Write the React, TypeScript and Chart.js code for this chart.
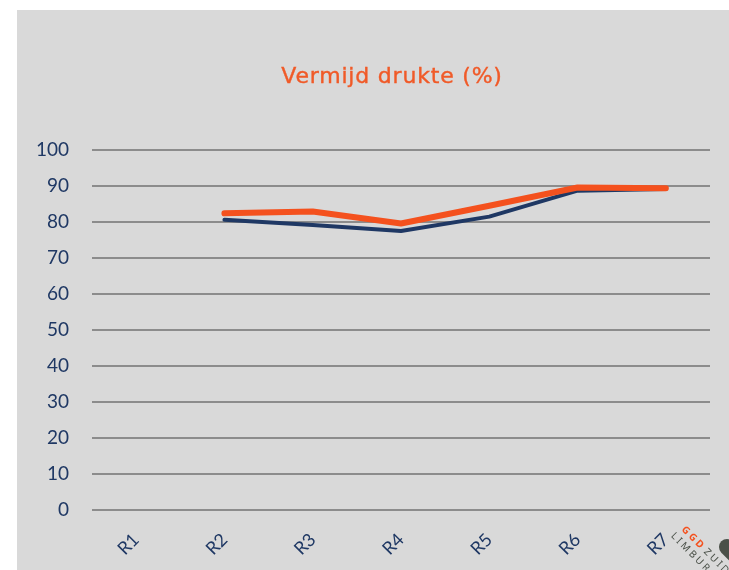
import React, { useEffect, useRef } from "react";
import { Chart, registerables } from "chart.js";

Chart.register(...registerables);

const categories = ["R1", "R2", "R3", "R4", "R5", "R6", "R7"];
const seriesNavy: (number | null)[] = [null, 80.6, 79.2, 77.5, 81.5, 88.7, 89.2];
const seriesOrange: (number | null)[] = [null, 82.4, 82.9, 79.6, 84.5, 89.6, 89.4];
const yTicks = [0, 10, 20, 30, 40, 50, 60, 70, 80, 90, 100];
const titleText = "Vermijd drukte (%)";

const NAVY = "#1f3864";
const ORANGE = "#f4511e";

const titlePlugin = {
  id: "customTitle",
  afterDraw(chart: any) {
    const ctx = chart.ctx as CanvasRenderingContext2D;
    ctx.save();
    ctx.font = "22px 'DejaVu Sans'";
    (ctx as any).letterSpacing = "0.8px";
    ctx.fillStyle = "#f05a28";
    ctx.strokeStyle = "#f05a28";
    ctx.lineWidth = 0.4;
    ctx.textAlign = "center";
    ctx.textBaseline = "middle";
    ctx.fillText(titleText, chart.width / 2, 67);
    ctx.strokeText(titleText, chart.width / 2, 67);
    ctx.restore();
  },
};

const logoPlugin = {
  id: "logo",
  afterDraw(chart: any) {
    const ctx = chart.ctx as CanvasRenderingContext2D;
    ctx.save();
    ctx.strokeStyle = "#4a5048";
    ctx.lineWidth = 16;
    ctx.lineCap = "round";
    ctx.beginPath();
    ctx.moveTo(710, 537);
    ctx.lineTo(746, 573);
    ctx.stroke();
    ctx.translate(664, 520);
    ctx.rotate(Math.PI / 4);
    ctx.font = "bold 10px 'Noto Sans'";
    (ctx as any).letterSpacing = "2.5px";
    ctx.textBaseline = "alphabetic";
    ctx.fillStyle = ORANGE;
    ctx.fillText("GGD", 0, 0);
    const w = ctx.measureText("GGD").width;
    ctx.fillStyle = "#4a5048";
    ctx.font = "10px 'Noto Sans'";
    ctx.fillText("ZUID", w + 2, 0);
    ctx.fillText("LIMBURG", -3, 12);
    ctx.restore();
  },
};

export default function App() {
  const ref = useRef<HTMLCanvasElement>(null);
  useEffect(() => {
    if (!ref.current) return;
    const chart = new Chart(ref.current, {
      type: "line",
      data: {
        labels: categories,
        datasets: [
          {
            label: "navy",
            data: seriesNavy,
            borderColor: NAVY,
            backgroundColor: NAVY,
            borderWidth: 4,
            pointRadius: 0,
            tension: 0,
            borderCapStyle: "round",
            borderJoinStyle: "round",
            order: 2,
          },
          {
            label: "orange",
            data: seriesOrange,
            borderColor: ORANGE,
            backgroundColor: ORANGE,
            borderWidth: 6,
            pointRadius: 0,
            tension: 0,
            borderCapStyle: "round",
            borderJoinStyle: "round",
            order: 1,
          },
        ],
      },
      options: {
        animation: false,
        responsive: false,
        layout: { padding: { left: 0, right: 57, top: 140, bottom: 0 } },
        plugins: {
          legend: { display: false },
          tooltip: { enabled: false },
          title: { display: false },
        },
        scales: {
          x: {
            offset: true,
            grid: { display: false, drawTicks: false },
            border: { display: false },
            ticks: {
              color: NAVY,
              font: { family: "Lato", size: 18 },
              minRotation: 45,
              maxRotation: 45,
              padding: 19,
            },
            afterFit(scale: any) {
              scale.height = 60;
            },
          },
          y: {
            min: 0,
            max: 100,
            afterBuildTicks(scale: any) {
              scale.ticks = yTicks.map((v) => ({ value: v }));
            },
            grid: { color: "#8c8c8c", lineWidth: 2, drawTicks: false },
            border: { display: false },
            ticks: {
              color: NAVY,
              font: { family: "Lato", size: 19 },
              padding: 23,
            },
            afterFit(scale: any) {
              scale.width = 75;
            },
          },
        },
      },
      plugins: [titlePlugin, logoPlugin],
    });
    return () => chart.destroy();
  }, []);
  return (
    <div
      style={{
        position: "fixed",
        left: 17,
        top: 10,
        width: 712,
        height: 560,
        overflow: "hidden",
        background: "#d9d9d9",
      }}
    >
      <canvas ref={ref} width={750} height={560} style={{ display: "block" }} />
    </div>
  );
}
